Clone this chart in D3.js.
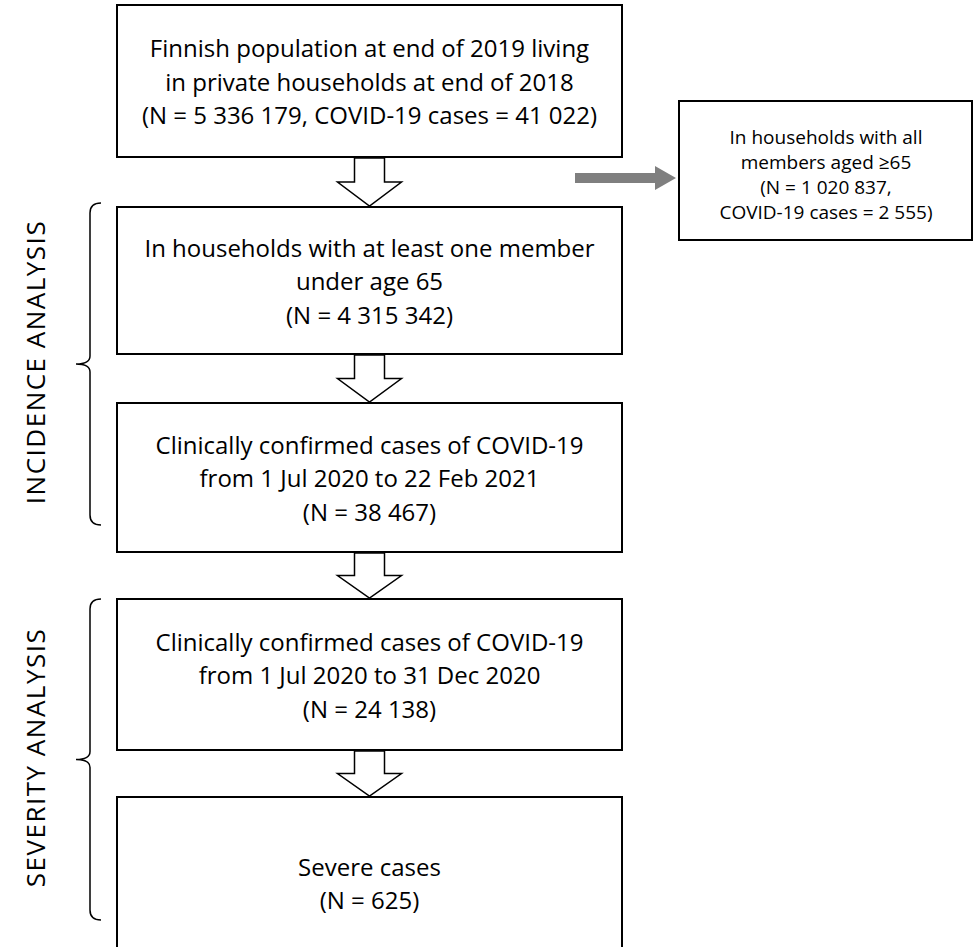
<!DOCTYPE html>
<html>
<head>
<meta charset="utf-8">
<script src="https://cdn.jsdelivr.net/npm/d3@7"></script>
<style>
  body { margin: 0; background: #fff; }
  text { font-family: "Open Sans", "Liberation Sans", sans-serif; fill: #000; }
</style>
</head>
<body>
<svg id="svg" width="976" height="947"></svg>
<script>
// flow boxes, top to bottom
var boxLines = [
  ["Finnish population at end of 2019 living", "in private households at end of 2018", "(N = 5 336 179, COVID-19 cases = 41 022)"],
  ["In households with at least one member", "under age 65", "(N = 4 315 342)"],
  ["Clinically confirmed cases of COVID-19", "from 1 Jul 2020 to 22 Feb 2021", "(N = 38 467)"],
  ["Clinically confirmed cases of COVID-19", "from 1 Jul 2020 to 31 Dec 2020", "(N = 24 138)"],
  ["Severe cases", "(N = 625)"]
];
var boxTops = [5, 207, 403, 599, 797];
var boxBottoms = [157, 354, 552, 750, 960];
var sideLines = ["In households with all", "members  aged \u226565", "(N = 1 020 837,", "COVID-19 cases = 2 555)"];
var brackets = [
  {label: "INCIDENCE ANALYSIS", y0: 203, y1: 525},
  {label: "SEVERITY ANALYSIS", y0: 599, y1: 920}
];

var svg = d3.select("#svg");
var bx = 117, bw = 505, cx = bx + bw / 2;

boxLines.forEach(function(lines, i) {
  var top = boxTops[i], h = boxBottoms[i] - top;
  svg.append("rect").attr("x", bx).attr("y", top).attr("width", bw).attr("height", h)
    .attr("fill", "#fff").attr("stroke", "#000").attr("stroke-width", 2);
  var mid = i === 4 ? 883 : top + h / 2;
  var lh = 33.5;
  lines.forEach(function(t, j) {
    svg.append("text").attr("x", cx).attr("y", mid + (j - (lines.length - 1) / 2) * lh)
      .attr("text-anchor", "middle").attr("dominant-baseline", "central")
      .style("font-size", "24px").text(t);
  });
});

// hollow down arrows between boxes
for (var i = 0; i < 4; i++) {
  var y0 = boxBottoms[i] + 1, y1 = boxTops[i + 1] - 1, hy = y0 + (y1 - y0) * 0.5;
  var p = [[cx - 15, y0], [cx + 15, y0], [cx + 15, hy], [cx + 32, hy], [cx, y1], [cx - 32, hy], [cx - 15, hy]];
  svg.append("path").attr("d", d3.line()(p) + "Z").attr("fill", "#fff").attr("stroke", "#000").attr("stroke-width", 1.5);
}

// side box + grey arrow
svg.append("rect").attr("x", 679).attr("y", 101).attr("width", 293).attr("height", 139)
  .attr("fill", "#fff").attr("stroke", "#000").attr("stroke-width", 2);
sideLines.forEach(function(t, j) {
  svg.append("text").attr("x", 826).attr("y", 137 + j * 25).attr("text-anchor", "middle")
    .attr("dominant-baseline", "central").style("font-size", "19px").text(t);
});
svg.append("path").attr("d", d3.line()([[575, 173], [655, 173], [655, 166], [676, 178], [655, 190], [655, 183], [575, 183]]) + "Z")
  .attr("fill", "#7f7f7f");

// brackets with rotated labels
brackets.forEach(function(b) {
  var m = (b.y0 + b.y1) / 2;
  var d = "M 101 " + b.y0 + " Q 90 " + b.y0 + " 90 " + (b.y0 + 10) +
    " L 90 " + (m - 8) + " Q 90 " + m + " 76 " + m +
    " Q 90 " + m + " 90 " + (m + 8) + " L 90 " + (b.y1 - 10) +
    " Q 90 " + b.y1 + " 101 " + b.y1;
  svg.append("path").attr("d", d).attr("fill", "none").attr("stroke", "#000").attr("stroke-width", 1.5);
  svg.append("text").attr("transform", "translate(35," + (m - 2) + ") rotate(-90)")
    .attr("text-anchor", "middle").attr("dominant-baseline", "central")
    .style("font-size", "26px").style("letter-spacing", "1.5px").text(b.label);
});
</script>
</body>
</html>
